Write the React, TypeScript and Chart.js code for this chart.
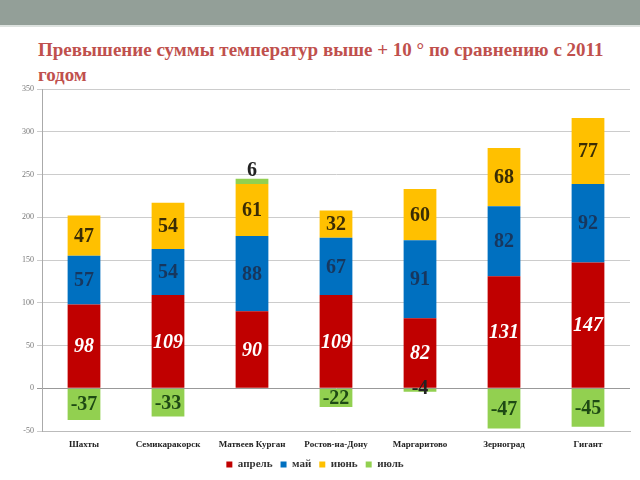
import React, { useEffect, useRef } from "react";
import { Chart, registerables } from "chart.js";

Chart.register(...registerables);

const categories = ["Шахты", "Семикаракорск", "Матвеев Курган", "Ростов-на-Дону", "Маргаритово", "Зерноград", "Гигант"];
const april = [98, 109, 90, 109, 82, 131, 147];
const may = [57, 54, 88, 67, 91, 82, 92];
const june = [47, 54, 61, 32, 60, 68, 77];
const july = [-37, -33, 6, -22, -4, -47, -45];
const seriesNames = ["апрель", "май", "июнь", "июль"];
const yTicks = [-50, 0, 50, 100, 150, 200, 250, 300, 350];

const barColors = ["#C00000", "#0070C0", "#FFC000", "#92D050"];
const labelColors = ["#FFFFFF", "#17375E", "#3A2C05", "#1E4A14"];
const SERIF = "'Liberation Serif', 'Times New Roman', serif";

const labelPlugin = {
  id: "barLabels",
  afterDatasetsDraw(chart: any) {
    const ctx = chart.ctx;
    ctx.save();
    chart.data.datasets.forEach((ds: any, di: number) => {
      const meta = chart.getDatasetMeta(di);
      meta.data.forEach((bar: any, i: number) => {
        const v = ds.data[i] as number;
        const p = bar.getProps(["x", "y", "base"], true);
        let cy = (p.y + p.base) / 2;
        let color = labelColors[di];
        if (Math.abs(v) < 10) {
          color = "#222";
          cy = v > 0 ? p.y - 9 : p.y - 4;
        }
        ctx.font = (di === 0 ? "italic bold " : "bold ") + "20px " + SERIF;
        ctx.fillStyle = color;
        ctx.textAlign = "center";
        ctx.textBaseline = "middle";
        ctx.fillText(String(v), p.x, cy + 1);
      });
    });
    ctx.restore();
  },
};

export default function App() {
  const ref = useRef<HTMLCanvasElement>(null);
  useEffect(() => {
    if (!ref.current) return;
    const data = [april, may, june, july];
    const chart = new Chart(ref.current, {
      type: "bar",
      data: {
        labels: categories,
        datasets: data.map((d, i) => ({
          label: seriesNames[i],
          data: d,
          backgroundColor: barColors[i],
          barPercentage: 0.39,
          categoryPercentage: 1,
        })),
      },
      options: {
        animation: false,
        responsive: false,
        maintainAspectRatio: false,
        layout: { padding: { top: 9, right: 10, left: 0, bottom: 0 } },
        plugins: {
          legend: {
            position: "bottom",
            labels: {
              boxWidth: 6,
              boxHeight: 6,
              padding: 8,
              color: "#333",
              font: { family: SERIF, size: 11, weight: "bold" },
            },
          },
          tooltip: { enabled: false },
        },
        scales: {
          x: {
            stacked: true,
            grid: { display: false },
            border: { display: true, color: "#bbb" },
            ticks: {
              color: "#222",
              font: { family: SERIF, size: 9, weight: "bold" },
              maxRotation: 0,
              autoSkip: false,
              padding: 0,
            },
            afterFit: (s: any) => {
              s.height = 20;
            },
          },
          y: {
            stacked: true,
            min: -50,
            max: 350,
            afterBuildTicks: (s: any) => {
              s.ticks = yTicks.map((v) => ({ value: v }));
            },
            grid: {
              color: (c: any) => (c.tick && c.tick.value === 0 ? "#999" : "#ccc"),
              tickLength: 5,
            },
            border: { display: true, color: "#aaa" },
            ticks: {
              color: "#777",
              font: { family: SERIF, size: 8 },
              padding: 3,
            },
            afterFit: (s: any) => {
              s.width = 42;
            },
          },
        },
      },
      plugins: [labelPlugin],
    });
    return () => chart.destroy();
  }, []);

  return (
    <div style={{ position: "fixed", left: 0, top: 0, width: 640, height: 480, background: "#fff", overflow: "hidden" }}>
      <div style={{ position: "absolute", left: 0, top: 0, width: 640, height: 25, background: "#939F98" }} />
      <div style={{ position: "absolute", left: 0, top: 25, width: 640, height: 2, background: "#dde2df" }} />
      <div
        style={{
          position: "absolute",
          left: 38,
          top: 37,
          width: 580,
          fontFamily: SERIF,
          fontWeight: "bold",
          fontSize: 19,
          lineHeight: "25px",
          color: "#C0504D",
        }}
      >
        Превышение суммы температур выше + 10 ° по сравнению с 2011 годом
      </div>
      <canvas ref={ref} width={640} height={400} style={{ position: "absolute", left: 0, top: 80, width: 640, height: 400 }} />
    </div>
  );
}
